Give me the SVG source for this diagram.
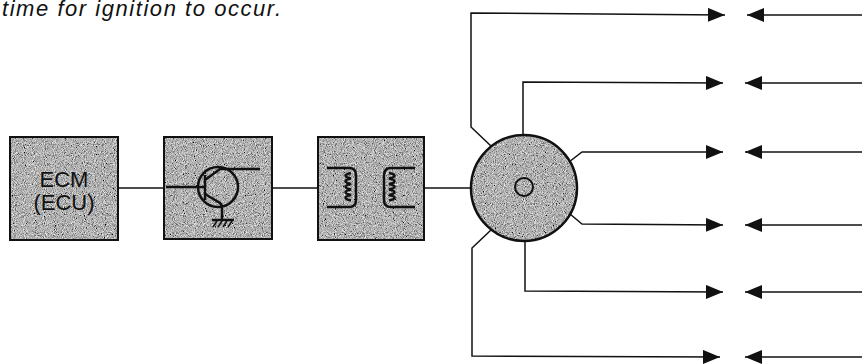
<svg xmlns="http://www.w3.org/2000/svg" width="862" height="364" viewBox="0 0 862 364">
<style>
.fillg{fill:#999;filter:url(#grain)}
.edge{fill:none;stroke:#111;stroke-width:2}
.ln{fill:none;stroke:#111;stroke-width:1.5}
.sym{fill:none;stroke:#111;stroke-width:2.5}
.lbl{font-family:"Liberation Sans",Arial,sans-serif;font-size:22px;fill:#111;text-anchor:middle}
.cap{font-family:"Liberation Sans",Arial,sans-serif;font-size:22px;font-style:italic;fill:#111}
</style>
<defs>
<filter id="grain" x="0" y="0" width="100%" height="100%">
<feTurbulence type="fractalNoise" baseFrequency="1.1" numOctaves="1" seed="5" result="n"/>
<feColorMatrix in="n" type="matrix" values="0.33 0.33 0.33 0 0  0.33 0.33 0.33 0 0  0.33 0.33 0.33 0 0  0 0 0 0 1" result="g"/>
<feComponentTransfer in="g" result="c">
<feFuncR type="linear" slope="2.6" intercept="-0.85"/>
<feFuncG type="linear" slope="2.6" intercept="-0.85"/>
<feFuncB type="linear" slope="2.6" intercept="-0.85"/>
</feComponentTransfer>
<feComposite in="c" in2="SourceGraphic" operator="in"/>
</filter>
<marker id="ah" markerUnits="userSpaceOnUse" markerWidth="18" markerHeight="14" refX="17" refY="7" orient="auto">
<path d="M0,0 L17,7 L0,14 Z" fill="#111"/>
</marker>
</defs>
<text class="cap" x="2" y="16" textLength="279" lengthAdjust="spacing">time for ignition to occur.</text>
<g id="ecm">
<rect class="fillg" x="10" y="137" width="108" height="103"/>
<rect class="edge" x="10" y="137" width="108" height="103"/>
<text class="lbl" x="64" y="187">ECM</text>
<text class="lbl" x="64" y="210">(ECU)</text>
</g>
<g id="transistor">
<rect class="fillg" x="164" y="137" width="108" height="102"/>
<rect class="edge" x="164" y="137" width="108" height="102"/>
<line class="sym" x1="166" y1="187" x2="204" y2="187"/>
<line class="sym" x1="205" y1="175" x2="205" y2="200"/>
<circle class="sym" cx="218" cy="187" r="20"/>
<path class="sym" d="M205,180 L220,169 L260,169"/>
<path class="sym" d="M205,194 L220,203 L222,206 L222,219"/>
<line class="sym" x1="212" y1="220" x2="234" y2="220"/>
<path class="ln" d="M213,227 L217,221 M218,227 L222,221 M223,227 L227,221 M228,227 L232,221"/>
</g>
<g id="coil">
<rect class="fillg" x="318" y="137" width="106" height="103"/>
<rect class="edge" x="318" y="137" width="106" height="103"/>
<path class="sym" d="M327,168 L349,168 Q356,168 356,175 L356,200 Q356,207 349,207 L327,207"/>
<path class="sym" d="M351,173 q-11,2.5 0,5.5 q-11,2.5 0,5.5 q-11,2.5 0,5.5 q-11,2.5 0,5.5 q-11,2.5 0,5.5"/>
<path class="sym" d="M415,168 L391,168 Q384,168 384,175 L384,200 Q384,207 391,207 L415,207"/>
<path class="sym" d="M389,173 q11,2.5 0,5.5 q11,2.5 0,5.5 q11,2.5 0,5.5 q11,2.5 0,5.5 q11,2.5 0,5.5"/>
</g>
<g id="distributor">
<circle class="fillg" cx="524" cy="188" r="53"/>
<circle cx="524" cy="188" r="53" fill="none" stroke="#111" stroke-width="2.5"/>
<circle cx="524" cy="187" r="9" fill="none" stroke="#111" stroke-width="2"/>
</g>
<g id="connectors">
<line class="ln" x1="118" y1="188" x2="164" y2="188"/>
<line class="ln" x1="272" y1="188" x2="318" y2="188"/>
<line class="ln" x1="424" y1="188" x2="471" y2="188"/>
<polyline class="ln" points="491,146 471,127 471,13 725,15" marker-end="url(#ah)"/>
<polyline class="ln" points="523,135 523,82 723,83" marker-end="url(#ah)"/>
<polyline class="ln" points="569,162 582,152 723,152" marker-end="url(#ah)"/>
<polyline class="ln" points="570,214 582,224 723,225" marker-end="url(#ah)"/>
<polyline class="ln" points="525,241 525,291 723,292" marker-end="url(#ah)"/>
<polyline class="ln" points="491,230 472,248 472,356 720,357" marker-end="url(#ah)"/>
<line class="ln" x1="862" y1="15" x2="747" y2="15" marker-end="url(#ah)"/>
<line class="ln" x1="862" y1="83" x2="745" y2="83" marker-end="url(#ah)"/>
<line class="ln" x1="862" y1="152" x2="745" y2="152" marker-end="url(#ah)"/>
<line class="ln" x1="862" y1="225" x2="745" y2="225" marker-end="url(#ah)"/>
<line class="ln" x1="862" y1="292" x2="745" y2="292" marker-end="url(#ah)"/>
<line class="ln" x1="862" y1="357" x2="745" y2="357" marker-end="url(#ah)"/>
</g>
</svg>
